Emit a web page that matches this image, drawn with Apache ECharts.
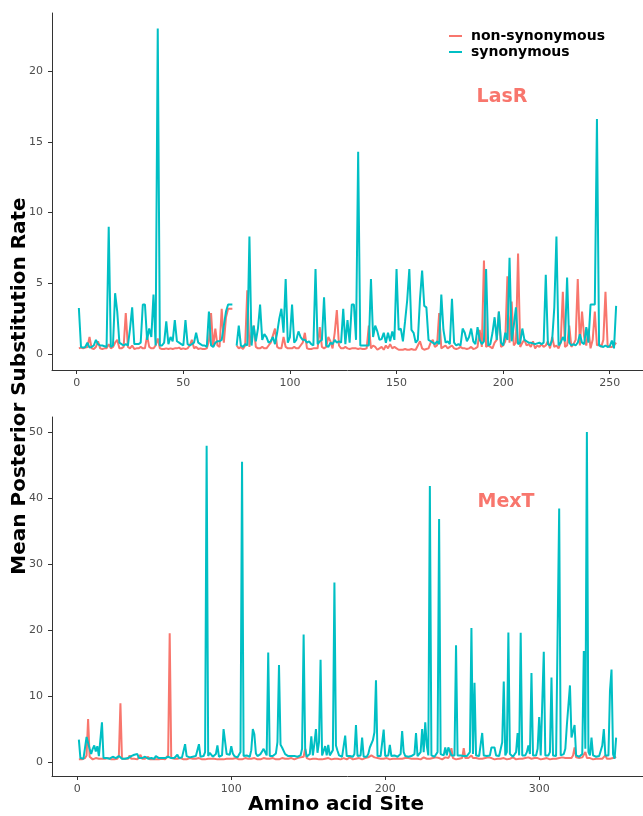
<!DOCTYPE html>
<html>
<head>
<meta charset="utf-8">
<script src="https://cdn.jsdelivr.net/npm/echarts@6/dist/echarts.min.js"></script>
<style>
html,body{margin:0;padding:0;background:#fff;}
#chart{width:643px;height:816px;}
</style>
</head>
<body>
<div id="chart"></div>
<script>
// ---------- LasR (sites 1..253) ----------
var lasrSyn = [
3.25,0.5,0.45,0.5,0.8,0.45,0.5,0.6,1.0,0.7,
0.6,0.6,0.55,0.5,9.0,0.5,0.6,4.3,3.0,0.8,
0.7,0.6,0.7,0.6,1.8,3.3,0.7,0.7,0.7,0.8,
3.5,3.5,1.0,1.8,1.2,4.2,0.6,23.0,0.6,0.6,
0.8,2.3,0.7,1.2,0.9,2.4,0.9,0.8,0.7,0.6,
2.4,0.7,0.6,0.7,0.8,1.5,0.8,0.7,0.6,0.6,
0.5,3.0,0.6,0.5,0.8,0.9,0.9,1.0,2.0,3.0,
3.5,3.5,3.5,null,0.6,2.0,0.6,0.5,0.7,0.6,
8.3,0.6,2.0,0.9,1.8,3.5,1.0,1.4,1.2,0.8,
0.9,1.2,0.7,1.5,2.5,3.2,1.5,5.3,0.8,1.2,
3.5,0.8,1.0,1.6,1.2,1.0,1.0,0.8,0.9,0.7,
0.6,6.0,0.7,0.9,1.0,4.0,0.6,0.5,0.8,0.7,
1.0,0.8,0.9,0.8,3.2,0.7,2.4,0.8,3.5,3.5,
1.0,14.3,0.6,0.6,0.6,0.6,0.6,5.3,1.2,2.0,
1.6,1.0,1.05,1.5,0.8,1.5,0.9,1.6,1.0,6.0,
1.7,1.8,0.9,2.3,3.8,6.0,1.7,1.5,0.8,1.0,
3.9,5.9,3.4,3.3,1.0,0.9,0.8,0.7,0.9,0.7,
4.2,1.7,0.8,0.9,0.7,3.9,0.8,0.6,0.7,0.6,
1.8,1.5,0.9,1.2,1.8,0.9,0.7,1.9,1.0,0.7,
0.9,6.0,0.6,0.7,1.5,2.6,1.0,3.0,0.8,0.6,
1.5,1.0,6.8,0.9,2.0,3.3,0.7,0.8,1.8,1.0,
0.9,0.8,0.8,0.75,0.7,0.75,0.8,0.7,0.8,5.6,
0.7,0.6,1.0,3.3,8.3,0.6,0.8,1.2,0.9,5.4,
0.8,0.6,0.7,0.6,0.8,1.4,0.8,0.7,1.9,0.8,
3.5,3.5,3.5,16.6,0.6,0.55,0.5,0.6,0.5,0.55,
0.95,0.4,3.4
];
var lasrNon = [
0.4,0.45,0.4,0.45,0.5,1.2,0.4,0.35,0.5,0.9,
0.4,0.35,0.4,0.4,0.7,0.4,0.5,0.8,1.0,0.4,
0.4,0.5,2.9,0.5,0.4,0.6,0.35,0.4,0.4,0.5,
0.4,0.4,1.3,0.5,0.4,0.4,0.6,1.1,0.4,0.35,
0.35,0.4,0.35,0.4,0.35,0.4,0.4,0.45,0.35,0.4,
0.35,0.4,0.6,1.0,0.4,0.5,0.35,0.4,0.35,0.35,
0.4,0.9,2.9,0.5,1.8,0.6,0.5,3.2,0.8,2.6,
3.2,3.2,3.2,null,0.6,0.4,0.5,0.35,0.6,4.5,
0.5,1.5,2.0,0.5,0.4,0.4,0.5,0.4,0.4,0.6,
0.8,1.3,1.8,0.5,0.4,0.4,1.2,0.5,0.4,0.4,
0.4,0.5,0.4,0.4,0.6,0.8,1.5,0.4,0.35,0.35,
0.4,0.4,0.4,1.9,0.5,0.4,0.5,1.2,0.9,0.4,
1.5,3.1,0.6,0.4,0.4,0.5,0.4,0.35,0.4,0.4,
0.4,0.35,0.4,0.35,0.35,0.4,2.0,0.4,0.6,0.5,
0.3,0.4,0.5,0.3,0.6,0.4,0.7,0.4,0.5,0.4,
0.3,0.3,0.3,0.35,0.3,0.3,0.35,0.3,0.3,0.6,
0.9,0.4,0.3,0.35,0.4,0.8,1.0,0.5,0.6,2.9,
0.4,0.5,0.6,0.4,0.5,0.6,0.4,0.35,0.4,0.5,
0.4,0.4,0.35,0.4,0.5,0.35,0.4,0.5,1.7,0.5,
6.6,0.5,0.6,0.5,0.4,0.8,1.0,3.0,0.5,0.6,
0.9,5.5,0.8,3.7,0.6,0.8,7.1,0.5,0.8,1.0,
0.6,0.7,0.5,0.9,0.4,0.6,0.5,0.7,0.5,0.6,
0.9,0.4,1.2,0.5,0.6,0.4,0.8,4.4,0.5,0.6,
2.0,0.5,0.7,1.0,5.3,0.6,3.0,1.2,0.6,1.8,
0.4,1.0,3.0,0.6,0.7,0.5,1.0,4.4,0.6,0.5,
0.5,0.6,0.8
];
// ---------- MexT (sites 1..350) ----------
var mextSyn = [
3.4,0.6,0.5,0.5,0.6,3.8,3.9,2.0,1.2,2.0,
2.5,1.6,2.4,0.9,0.7,6.0,0.6,0.5,0.6,0.9,
0.5,0.6,0.8,0.5,0.6,0.5,0.9,0.7,0.5,0.6,
0.5,0.7,0.6,0.8,0.9,1.0,1.1,0.8,1.2,0.6,
0.5,0.6,0.5,0.8,0.6,0.5,0.5,0.6,0.7,0.5,
0.9,1.2,0.6,0.5,0.6,0.5,0.6,0.6,0.8,0.9,
0.6,0.9,0.6,0.7,1.1,0.6,0.8,0.7,1.0,2.7,
0.9,0.6,0.7,0.8,0.8,0.7,0.9,1.1,2.7,0.8,
0.7,0.9,1.5,47.9,0.9,1.4,1.3,0.8,0.9,1.2,
2.5,0.8,0.7,1.0,5.0,4.8,1.2,0.9,1.1,2.4,
1.3,0.9,0.8,0.7,0.9,1.5,45.5,0.9,0.8,1.0,
0.9,0.8,1.8,5.0,4.2,1.3,0.9,1.0,1.2,1.6,
2.0,1.9,1.0,16.6,0.9,0.8,0.9,1.0,1.3,3.0,
14.7,2.6,2.2,2.3,1.2,1.3,0.9,0.8,0.9,0.7,
0.9,1.0,0.8,0.9,1.0,2.0,19.3,2.1,0.8,1.0,
1.2,3.9,1.0,2.8,5.0,1.4,3.0,15.5,1.0,0.9,
2.4,1.0,2.6,1.0,0.9,1.8,27.2,2.5,1.7,1.0,
0.9,0.8,1.0,4.0,0.9,0.8,0.9,1.0,0.8,1.2,
5.6,0.9,0.8,1.0,3.7,0.8,0.9,0.8,1.2,2.2,
2.4,3.3,4.5,12.4,0.9,0.8,0.9,1.0,4.9,0.9,
0.8,1.0,2.6,0.9,0.8,1.0,0.9,0.8,1.0,1.2,
4.7,1.5,0.9,1.0,0.8,1.0,0.9,1.0,1.2,4.4,
0.9,1.0,1.5,5.0,1.5,6.0,2.5,1.0,41.8,1.0,
0.9,0.8,1.0,1.5,36.8,1.2,1.5,1.0,2.2,1.0,
2.2,1.6,1.0,0.9,1.0,17.7,1.0,0.9,1.0,0.8,
0.9,1.0,0.9,1.0,1.5,20.3,1.2,12.0,1.0,0.9,
0.9,1.0,4.4,1.0,0.8,0.9,0.9,1.0,2.2,2.2,
2.2,1.0,0.8,0.9,1.2,3.0,12.2,1.0,1.5,19.6,
1.2,0.9,0.8,1.0,1.5,4.4,1.0,19.6,1.0,0.9,
1.0,1.5,2.5,1.2,13.5,1.0,0.9,1.0,2.0,6.8,
1.0,1.2,16.7,1.0,0.9,1.0,1.5,12.8,1.0,0.8,
0.9,1.0,38.4,1.0,0.9,1.2,2.0,5.6,5.5,11.6,
3.7,3.5,5.6,1.0,0.9,0.8,1.0,1.2,16.8,2.0,
50.0,1.5,1.0,3.7,1.0,0.9,0.8,1.0,0.9,1.0,
2.5,5.0,1.0,0.9,1.0,10.8,14.0,1.2,0.5,3.7
];
var mextNon = [
0.4,0.5,0.4,0.5,0.6,1.0,6.5,0.8,0.5,0.4,
0.5,0.6,0.4,0.5,0.4,0.5,0.4,0.5,0.4,0.6,
0.5,0.4,0.5,0.4,0.6,0.5,1.0,8.9,0.5,0.4,
0.5,0.6,0.5,1.0,0.5,0.4,0.5,0.6,0.4,0.5,
1.1,0.5,0.4,0.5,0.6,0.8,0.4,0.5,0.4,0.5,
0.4,0.5,0.4,0.4,0.5,0.6,0.4,0.5,1.0,19.5,
0.6,0.4,0.5,0.4,0.5,0.4,0.6,0.5,0.4,0.5,
0.4,0.5,0.6,0.4,0.5,0.4,0.5,0.4,0.6,0.5,
0.4,0.5,0.4,0.6,0.5,0.4,0.5,0.4,0.5,0.6,
0.4,0.5,0.4,0.5,0.4,0.6,0.5,0.4,0.5,0.4,
0.5,0.4,0.6,0.5,0.4,0.5,0.4,0.5,0.6,0.4,
0.5,0.4,0.5,0.4,0.6,0.5,0.4,0.5,0.4,0.5,
0.6,0.4,0.5,0.4,0.5,0.4,0.6,0.5,0.4,0.5,
0.4,0.5,0.6,0.4,0.5,0.4,0.5,0.4,0.6,0.5,
0.4,0.5,0.6,0.5,0.7,0.6,0.8,2.0,0.6,0.5,
0.4,0.6,0.5,0.4,0.5,0.6,0.4,0.5,0.4,0.6,
0.5,0.4,0.6,0.5,0.4,0.7,0.5,0.4,0.5,0.6,
0.4,0.5,0.6,0.5,0.4,0.5,0.7,0.5,0.4,0.6,
0.5,0.4,0.6,0.5,0.4,0.5,0.6,0.5,0.7,0.8,
1.0,1.2,0.7,0.5,0.6,0.4,0.5,0.6,0.5,0.4,
0.6,0.5,0.4,0.6,0.5,0.4,0.5,0.6,0.5,0.7,
0.5,0.4,0.6,0.5,0.6,0.4,0.5,0.7,0.5,0.6,
0.5,0.6,0.4,0.5,0.7,0.6,0.5,0.6,0.5,0.4,
0.6,0.5,0.7,0.5,0.6,0.5,0.4,0.6,0.7,0.5,
0.6,1.0,2.1,0.6,0.5,0.4,0.6,0.5,0.7,0.6,
2.1,0.6,0.5,0.6,0.7,1.0,0.6,0.5,0.6,0.4,
0.5,0.6,0.5,0.4,0.6,0.5,0.7,0.5,0.6,0.5,
0.4,0.6,0.5,0.6,0.5,0.7,0.6,0.5,0.4,0.6,
0.5,0.6,0.7,0.5,0.4,0.6,0.5,0.6,0.5,0.4,
0.6,0.5,0.7,0.6,0.5,0.4,0.6,0.5,0.6,0.5,
0.4,0.6,0.5,0.7,0.6,0.5,0.4,0.6,0.5,0.6,
0.5,0.4,0.6,0.5,0.7,0.5,0.6,0.8,0.6,0.5,
0.6,1.0,2.2,0.7,0.5,0.6,0.5,0.7,0.8,1.5,
0.6,0.5,0.6,0.5,0.4,0.6,0.5,0.6,0.5,0.7,
0.5,0.6,1.0,0.5,0.6,0.5,0.7,0.6,0.5,0.8
];
var lasrXTicks = [0, 50, 100, 150, 200, 250];
var lasrYTicks = [0, 5, 10, 15, 20];
var mextXTicks = [0, 100, 200, 300];
var mextYTicks = [0, 10, 20, 30, 40, 50];
var seriesNames = ['non-synonymous', 'synonymous'];
var panelLabels = ['LasR', 'MexT'];

var RED = '#F8766D', CYAN = '#00BFC4';
var FONT = 'DejaVu Sans';

function pairs(arr) {
  return arr.map(function (v, i) { return [i + 1, v === null ? '-' : v]; });
}
function xAx(idx, min, max, ticks) {
  return {
    type: 'value', gridIndex: idx, min: min, max: max,
    axisLine: { show: true, onZero: false, lineStyle: { color: '#333333', width: 1 } },
    axisTick: { show: true, length: 4, lineStyle: { color: '#333333' }, customValues: ticks },
    axisLabel: { color: '#4D4D4D', fontSize: 11, fontFamily: FONT, margin: 8, customValues: ticks },
    splitLine: { show: false }
  };
}
function yAx(idx, min, max, ticks) {
  return {
    type: 'value', gridIndex: idx, min: min, max: max,
    axisLine: { show: true, onZero: false, lineStyle: { color: '#333333', width: 1 } },
    axisTick: { show: true, length: 4, lineStyle: { color: '#333333' }, customValues: ticks },
    axisLabel: { color: '#4D4D4D', fontSize: 11, fontFamily: FONT, margin: 9, customValues: ticks },
    splitLine: { show: false }
  };
}
function line(name, color, data, idx) {
  return {
    name: name, type: 'line', xAxisIndex: idx, yAxisIndex: idx,
    data: pairs(data), showSymbol: false, symbol: 'none', connectNulls: false,
    lineStyle: { color: color, width: 2 }, itemStyle: { color: color },
    animation: false, silent: true
  };
}

var chart = echarts.init(document.getElementById('chart'), null, { renderer: 'canvas' });
chart.setOption({
  backgroundColor: '#ffffff',
  animation: false,
  grid: [
    { left: 52, right: 0, top: 13, height: 357 },
    { left: 52, right: 0, top: 417, height: 359 }
  ],
  xAxis: [ xAx(0, -11.6, 265.6, lasrXTicks), xAx(1, -16.45, 367.45, mextXTicks) ],
  yAxis: [ yAx(0, -1.13, 24.1, lasrYTicks), yAx(1, -2.12, 52.27, mextYTicks) ],
  legend: {
    data: seriesNames, orient: 'vertical', left: 449, top: 29, padding: 0,
    icon: 'rect', itemWidth: 13, itemHeight: 2, itemGap: 2,
    textStyle: { fontFamily: FONT, fontSize: 14, fontWeight: 'bold', color: '#000', padding: [0, 0, 0, 4], lineHeight: 14 },
    selectedMode: false
  },
  series: [
    line(seriesNames[0], RED, lasrNon, 0),
    line(seriesNames[1], CYAN, lasrSyn, 0),
    line(seriesNames[0], RED, mextNon, 1),
    line(seriesNames[1], CYAN, mextSyn, 1)
  ],
  graphic: [
    { type: 'text', x: 502, y: 97, style: { text: panelLabels[0], fill: RED, font: 'bold 19px "DejaVu Sans"', align: 'center', verticalAlign: 'middle' } },
    { type: 'text', x: 506, y: 502, style: { text: panelLabels[1], fill: RED, font: 'bold 19px "DejaVu Sans"', align: 'center', verticalAlign: 'middle' } },
    { type: 'text', x: 20, y: 386, rotation: Math.PI / 2,
      style: { text: 'Mean Posterior Substitution Rate', fill: '#000', font: 'bold 20px "DejaVu Sans"', align: 'center', verticalAlign: 'middle' } },
    { type: 'text', x: 336, y: 805,
      style: { text: 'Amino acid Site', fill: '#000', font: 'bold 20px "DejaVu Sans"', align: 'center', verticalAlign: 'middle' } }
  ]
});
</script>
</body>
</html>
